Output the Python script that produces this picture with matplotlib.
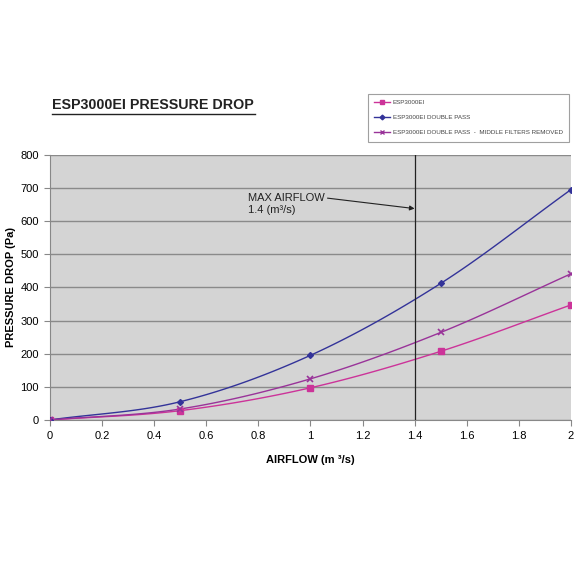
import matplotlib
matplotlib.use("Agg")
import matplotlib.pyplot as plt
import numpy as np

airflow = [0, 0.5, 1, 1.5, 2]
esp = [0, 28, 97, 207, 347]
double_pass = [0, 55, 195, 412, 695]
filters_removed = [0, 33, 124, 264, 441]

labels = ["ESP3000EI", "ESP3000EI DOUBLE PASS",
          "ESP3000EI DOUBLE PASS  -  MIDDLE FILTERS REMOVED"]
colors = ["#cc3399", "#333399", "#993399"]
markers = ["s", "D", "x"]

plt.rcParams['font.family'] = ['Liberation Sans', 'DejaVu Sans']


def smooth(x, y, n=30):
    # catmull-rom style curve through the points (like excel smoothed lines)
    x = np.asarray(x, float)
    y = np.asarray(y, float)
    px = np.concatenate([[2 * x[0] - x[1]], x, [2 * x[-1] - x[-2]]])
    py = np.concatenate([[2 * y[0] - y[1]], y, [2 * y[-1] - y[-2]]])
    xs, ys = [], []
    t = np.linspace(0, 1, n)
    for i in range(1, len(px) - 2):
        for p, out in ((px, xs), (py, ys)):
            p0, p1, p2, p3 = p[i - 1], p[i], p[i + 1], p[i + 2]
            c1 = p1 + (p2 - p0) / 6
            c2 = p2 - (p3 - p1) / 6
            out.extend((1 - t) ** 3 * p1 + 3 * (1 - t) ** 2 * t * c1
                       + 3 * (1 - t) * t ** 2 * c2 + t ** 3 * p2)
    return xs, ys


fig = plt.figure(figsize=(5.76, 5.76), dpi=100)
ax = fig.add_axes([0.087, 0.271, 0.904, 0.46])
ax.set_facecolor("#d4d4d4")

handles = []
for ys, lab, col, mk in zip([esp, double_pass, filters_removed], labels, colors, markers):
    sx, sy = smooth(airflow, ys)
    ax.plot(sx, sy, color=col, lw=1.0, zorder=3)
    ax.plot(airflow, ys, ls="none", marker=mk, color=col, ms=4 if mk != "D" else 3,
            mew=1.2 if mk == "x" else 1, zorder=4)
    h, = ax.plot([], [], color=col, lw=1.0, marker=mk, ms=3)
    handles.append(h)

ax.axvline(1.4, color="#222222", lw=0.9, zorder=5)
ax.annotate("MAX AIRFLOW\n1.4 (m³/s)", xy=(1.4, 638), xytext=(0.76, 652),
            fontsize=8, va="center", ha="left", color="#222222", linespacing=1.25,
            arrowprops=dict(arrowstyle="-|>", color="#222222", lw=0.8,
                            mutation_scale=7, shrinkA=0, shrinkB=0,
                            relpos=(1.0, 0.78)))

ax.set_xlim(0, 2)
ax.set_ylim(0, 800)
ax.set_xticks(np.arange(0, 2.01, 0.2))
ax.set_xticklabels(["0", "0.2", "0.4", "0.6", "0.8", "1", "1.2", "1.4", "1.6", "1.8", "2"])
ax.set_yticks(range(0, 801, 100))
ax.yaxis.grid(True, color="#8a8a8a", lw=1.0)
ax.set_axisbelow(True)
for s in ["top", "right"]:
    ax.spines[s].set_visible(False)
for s in ["left", "bottom"]:
    ax.spines[s].set_color("#888888")
ax.tick_params(labelsize=8, color="#888888", length=4, pad=4)

ax.set_xlabel("AIRFLOW (m ³/s)", fontsize=8, fontweight="bold", labelpad=10)
ax.set_ylabel("PRESSURE DROP (Pa)", fontsize=8, fontweight="bold", labelpad=3)

fig.text(0.09, 0.817, "ESP3000EI PRESSURE DROP", fontsize=10.3, fontweight="bold",
         color="#222222", ha="left", va="center")
fig.add_artist(plt.Line2D([0.09, 0.443], [0.802, 0.802], color="#222222", lw=1.0))

leg = fig.legend(handles, labels, loc="upper right", bbox_to_anchor=(0.993, 0.843),
                 fontsize=4.5, frameon=True, fancybox=False, edgecolor="#888888",
                 handlelength=2.6, handletextpad=0.4, labelspacing=1.55,
                 borderpad=1.0, markerscale=0.8, labelcolor="#444444")
leg.get_frame().set_linewidth(0.8)

fig.savefig("out.png", dpi=100)
